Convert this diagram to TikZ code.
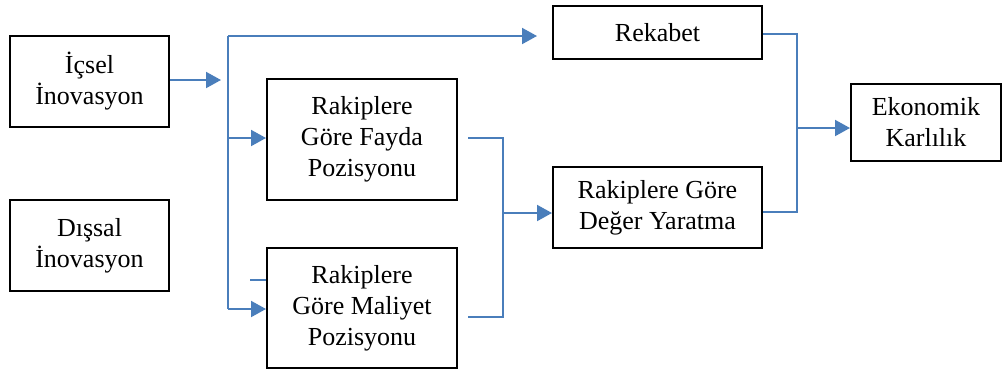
\documentclass[tikz,border=0pt]{standalone}
\usepackage{fontspec}
\setmainfont{Liberation Serif}
\usetikzlibrary{arrows.meta}
\definecolor{flow}{HTML}{4A7EBB}
\begin{document}
\begin{tikzpicture}[x=0.5pt,y=-0.5pt,
  box/.style={draw=black,line width=1pt,align=center,inner sep=0pt,
    font=\fontsize{13}{15.5}\selectfont},
  link/.style={draw=flow,line width=1pt},
  arr/.style={link,-{Triangle[length=7.5pt,width=8pt]}}]
\useasboundingbox (0,0) rectangle (1003,371);
% boxes
\node[box,minimum width=79.5pt,minimum height=45.5pt] (ic)  at (89.5,81.5)  {İçsel\\İnovasyon};
\node[box,minimum width=79.5pt,minimum height=45.5pt] (dis) at (89.5,245.5) {Dışsal\\İnovasyon};
\node[box,minimum width=104.5pt,minimum height=26.5pt] (rek) at (657.5,32.5) {Rekabet};
\node[box,minimum width=95pt,minimum height=60.5pt] (fay) at (362,139.5) {Rakiplere\\Göre Fayda\\Pozisyonu};
\node[box,minimum width=95pt,minimum height=60pt] (mal) at (362,308) {Rakiplere\\Göre Maliyet\\Pozisyonu};
\node[box,minimum width=104.5pt,minimum height=40.5pt] (deg) at (657.5,207.5) {Rakiplere Göre\\Değer Yaratma};
\node[box,minimum width=75pt,minimum height=38.5pt] (eko) at (926,122.5) {Ekonomik\\Karlılık};
% junction points
\coordinate (icend) at (221,80);
\coordinate (ttop) at (228,36);
\coordinate (tbot) at (228,309);
\coordinate (rekin) at (537,36);
\coordinate (stub) at (250,280);
\coordinate (mj) at (503,213);
\coordinate (ej) at (797,128);
% inputs to the trunk
\draw[arr] (ic.east |- icend) -- (icend);
\draw[link] (ttop) -- (tbot);
\draw[arr] (ttop) -- (rekin);
\draw[arr] (228,138) -- (fay.west |- 0,138);
\draw[arr] (tbot) -- (mal.west |- tbot);
\draw[link] (stub) -- (mal.west |- stub);
% positions merge into value creation
\draw[link] (468,138) -| (mj |- 0,317) -- (468,317);
\draw[arr] (mj) -- (deg.west |- mj);
% competition and value creation merge into profitability
\draw[link] (rek.east |- 0,34) -| (ej |- 0,212) -- (deg.east |- 0,212);
\draw[arr] (ej) -- (eko.west |- ej);
\end{tikzpicture}
\end{document}
